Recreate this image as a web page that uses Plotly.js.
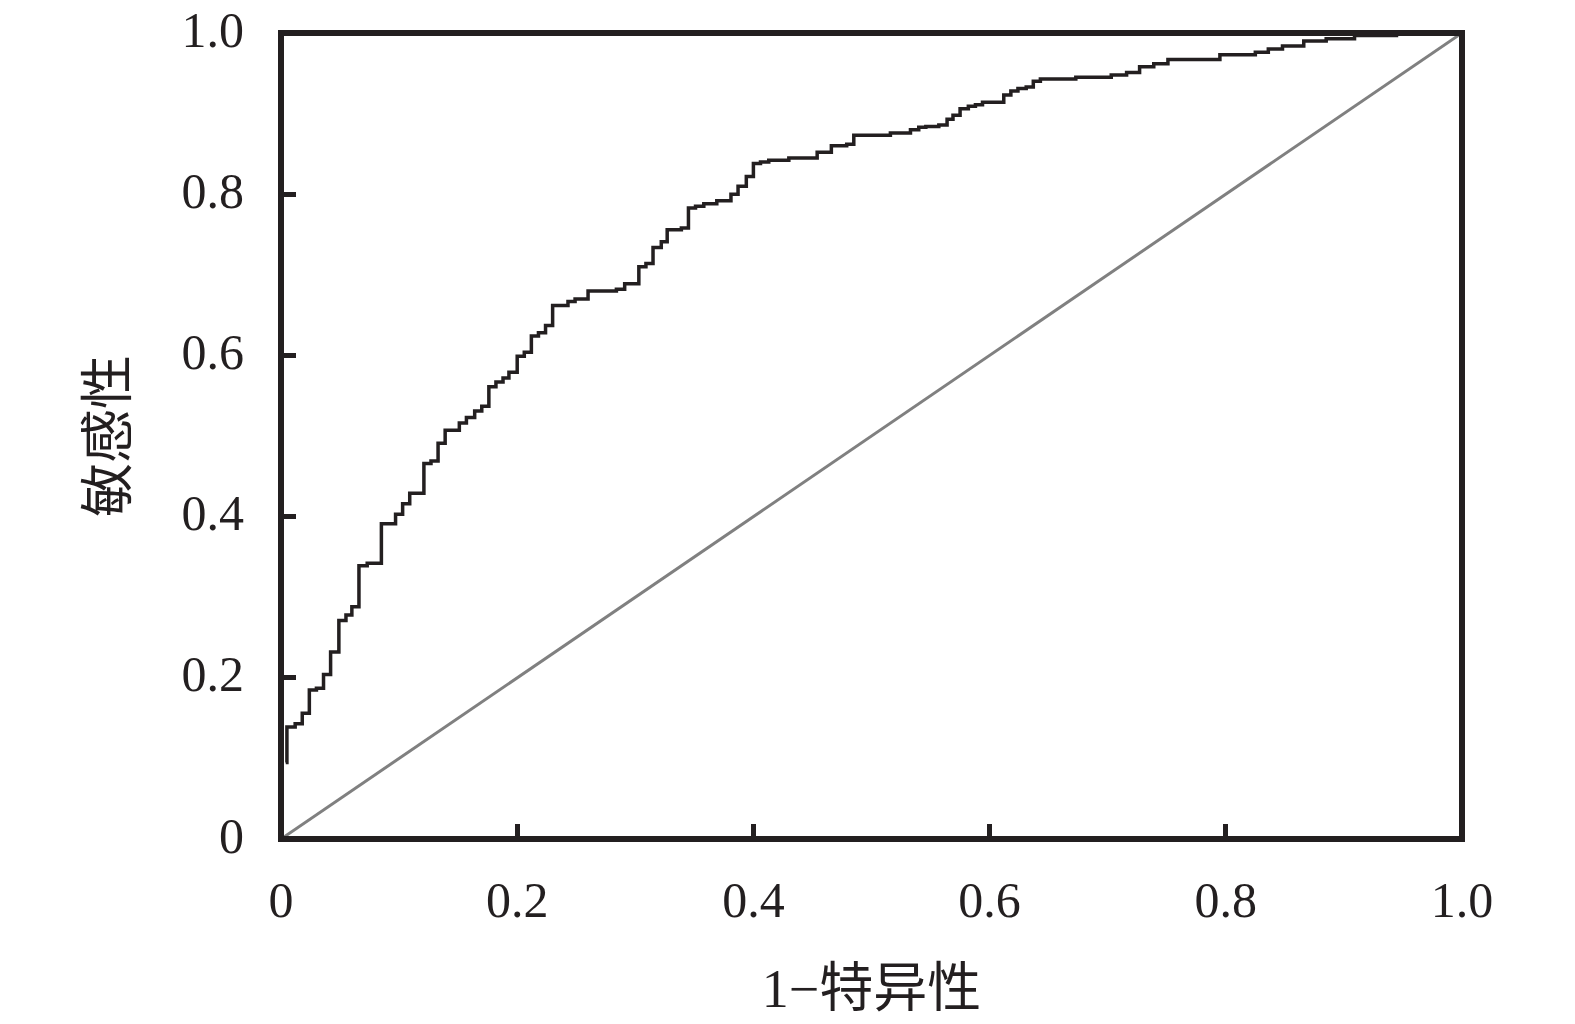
<!DOCTYPE html>
<html>
<head>
<meta charset="utf-8">
<script src="https://cdn.plot.ly/plotly-3.0.1.min.js"></script>
<style>
  html, body { margin: 0; padding: 0; background: #ffffff; }
  #chart { width: 1575px; height: 1024px; }
</style>
</head>
<body>
<div id="chart"></div>
<script>
// ROC curve: 1 - specificity (x) vs sensitivity (y), step points
const rocFpr = [
  0.004, 0.005, 0.012, 0.018, 0.024, 0.030, 0.036, 0.042, 0.049, 0.055,
  0.060, 0.066, 0.073, 0.085, 0.097, 0.103, 0.109, 0.121, 0.127, 0.133,
  0.139, 0.151, 0.157, 0.164, 0.170, 0.176, 0.182, 0.188, 0.193, 0.200,
  0.206, 0.212, 0.218, 0.224, 0.230, 0.243, 0.249, 0.260, 0.284, 0.291,
  0.303, 0.309, 0.315, 0.322, 0.327, 0.339, 0.345, 0.351, 0.358, 0.369,
  0.381, 0.387, 0.394, 0.400, 0.406, 0.413, 0.430, 0.454, 0.466, 0.479,
  0.485, 0.516, 0.533, 0.540, 0.546, 0.557, 0.564, 0.569, 0.575, 0.582,
  0.588, 0.594, 0.612, 0.618, 0.624, 0.631, 0.637, 0.643, 0.673, 0.703,
  0.716, 0.727, 0.739, 0.751, 0.795, 0.825, 0.836, 0.848, 0.866, 0.885,
  0.909, 0.946
];
const rocTpr = [
  0.095, 0.139, 0.143, 0.156, 0.185, 0.187, 0.204, 0.232, 0.271, 0.278,
  0.288, 0.339, 0.342, 0.391, 0.403, 0.416, 0.429, 0.466, 0.469, 0.491,
  0.507, 0.516, 0.523, 0.531, 0.537, 0.561, 0.567, 0.572, 0.579, 0.599,
  0.604, 0.624, 0.628, 0.637, 0.662, 0.667, 0.670, 0.680, 0.682, 0.689,
  0.710, 0.714, 0.734, 0.741, 0.756, 0.758, 0.783, 0.785, 0.788, 0.792,
  0.800, 0.810, 0.822, 0.838, 0.840, 0.842, 0.845, 0.852, 0.860, 0.862,
  0.873, 0.876, 0.880, 0.883, 0.884, 0.886, 0.893, 0.898, 0.906, 0.909,
  0.911, 0.914, 0.923, 0.928, 0.931, 0.933, 0.940, 0.943, 0.945, 0.948,
  0.951, 0.958, 0.962, 0.967, 0.973, 0.976, 0.980, 0.984, 0.990, 0.993,
  0.997, 0.997
];
// reference (chance) line
const refX = [0, 1];
const refY = [0, 1];

const tickVals = [0, 0.2, 0.4, 0.6, 0.8, 1.0];
const tickText = ['0', '0.2', '0.4', '0.6', '0.8', '1.0'];

const xTitle = '1\u2212特异性';
const yTitle = '敏感性';

const ink = '#231f20';
const fontFam = '"Liberation Serif", "Noto Sans CJK SC", serif';

const traces = [
  {
    x: refX, y: refY, type: 'scatter', mode: 'lines',
    line: { color: '#808080', width: 3 },
    hoverinfo: 'skip', showlegend: false
  },
  {
    x: rocFpr, y: rocTpr, type: 'scatter', mode: 'lines',
    line: { color: ink, width: 3.5, shape: 'hv' },
    showlegend: false
  }
];

const axisCommon = {
  range: [0, 1],
  tickvals: tickVals,
  ticktext: tickText,
  ticks: 'inside',
  ticklen: 15,
  tickwidth: 5,
  tickcolor: ink,
  showgrid: false,
  zeroline: false,
  showline: false,
  tickfont: { family: fontFam, size: 50, color: ink },
  fixedrange: true
};

const layout = {
  width: 1575,
  height: 1024,
  margin: { l: 281, r: 113, t: 33, b: 185 },
  paper_bgcolor: '#ffffff',
  plot_bgcolor: '#ffffff',
  font: { family: fontFam, color: ink },
  xaxis: Object.assign({}, axisCommon, {
    ticklabelstandoff: 27,
    title: { text: xTitle, font: { family: fontFam, size: 54, color: ink }, standoff: 42 }
  }),
  yaxis: Object.assign({}, axisCommon, {
    ticklabelstandoff: 36,
    ticklabelshift: -4,
    title: { text: yTitle, font: { family: fontFam, size: 54, color: ink }, standoff: 36 }
  }),
  shapes: [
    {
      type: 'rect', xref: 'paper', yref: 'paper',
      x0: 0, x1: 1, y0: 0, y1: 1,
      line: { color: ink, width: 6 }, fillcolor: 'rgba(0,0,0,0)', layer: 'above'
    }
  ]
};

Plotly.newPlot('chart', traces, layout, { displayModeBar: false, staticPlot: true });
</script>
</body>
</html>
